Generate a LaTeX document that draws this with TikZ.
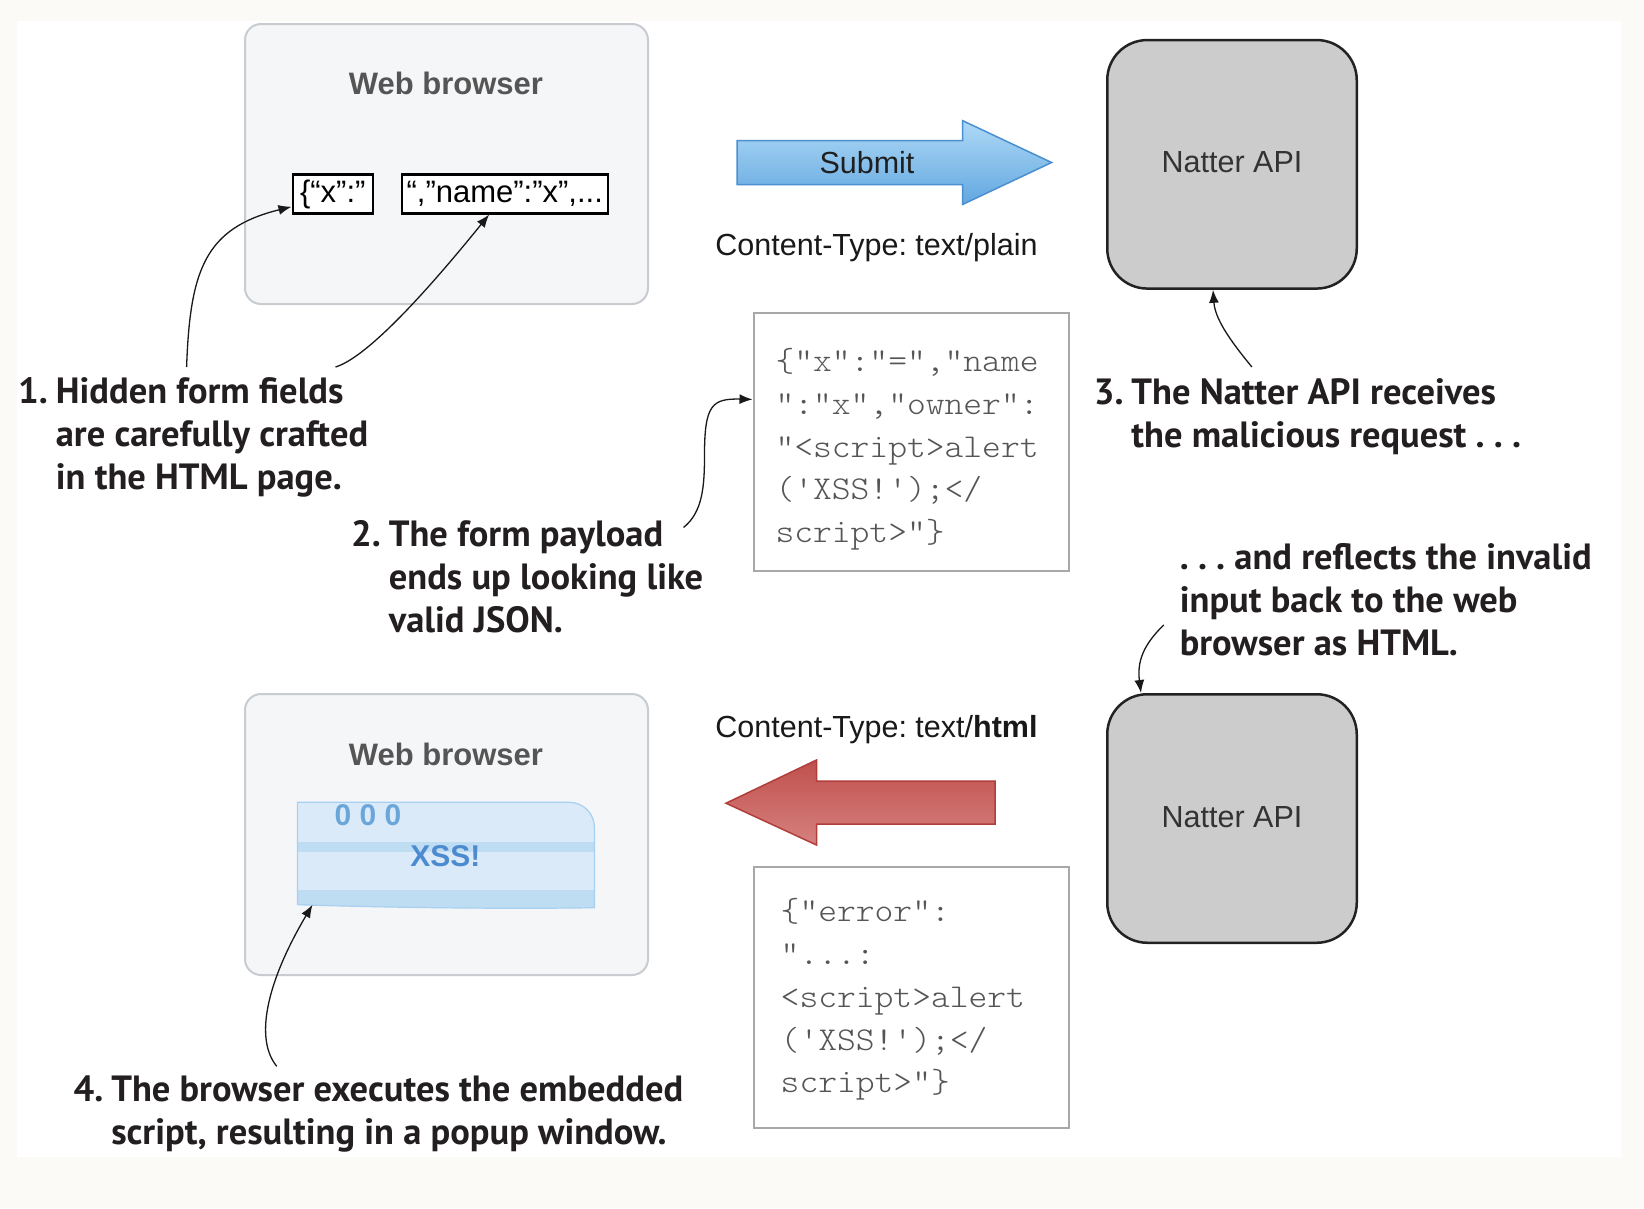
\documentclass[tikz,border=0pt]{standalone}
\usepackage{fontspec}
\setmainfont{Liberation Sans}
\newfontfamily\labelfont{PT Sans}
\newfontfamily\jsonfont[FakeStretch=1.075]{Latin Modern Mono Light}
\usetikzlibrary{arrows.meta,calc}
\definecolor{bgc}{HTML}{FBFAF6}
\definecolor{browserfill}{HTML}{F5F6F8}
\definecolor{browserline}{HTML}{C8CBCF}
\definecolor{apifill}{HTML}{CCCCCC}
\definecolor{apiline}{HTML}{222222}
\definecolor{jsonline}{HTML}{A8A8A8}
\definecolor{jsontext}{HTML}{555555}
\definecolor{lblc}{HTML}{231F20}
\definecolor{wbtext}{HTML}{555555}
\definecolor{popfill}{HTML}{DAEAF8}
\definecolor{popband}{HTML}{BEDCF2}
\definecolor{popline}{HTML}{A8D0F0}
\definecolor{popdots}{HTML}{6BA6DB}
\definecolor{popxss}{HTML}{4C8BD0}
\definecolor{subtop}{HTML}{AED9F6}
\definecolor{subbot}{HTML}{62A7E0}
\definecolor{subline}{HTML}{4A8FD0}
\definecolor{redtop}{HTML}{C0504D}
\definecolor{redbot}{HTML}{D6817E}
\definecolor{redline}{HTML}{B13E3B}
\frenchspacing
\begin{document}
\begin{tikzpicture}[x=1pt,y=-1pt,
  browser/.style={draw=browserline, fill=browserfill, line width=2pt, rounded corners=16pt,
    minimum width=403pt, minimum height=280pt, anchor=north west, inner sep=0pt},
  api/.style={draw=apiline, fill=apifill, line width=2.5pt, rounded corners=40pt,
    minimum width=249.5pt, minimum height=248.5pt, anchor=north west, inner sep=0pt,
    text=black!80, font=\fontsize{30.5}{36}\selectfont, text height=17pt, text depth=0pt},
  field/.style={draw=black, line width=2.5pt, fill=white, anchor=north west, inner sep=0pt,
    minimum height=39pt, font=\fontsize{31}{36}\selectfont, text height=24pt, text depth=6pt},
  jsonbox/.style={draw=jsonline, line width=2pt, fill=white, anchor=north west, inner sep=0pt,
    minimum width=315pt},
  jsontxt/.style={anchor=north west, inner sep=0pt, align=left, text=jsontext,
    font=\jsonfont\fontsize{33.3}{42.7}\selectfont},
  conn/.style={line width=1.3pt, draw=black!90, -{Latex[length=13pt,width=10pt]}},
  lbl/.style={anchor=north west, inner sep=0pt, text=lblc,
    font=\labelfont\bfseries\fontsize{36.5}{43}\selectfont},
  sans/.style={anchor=base, inner sep=0pt, font=\fontsize{30.5}{36}\selectfont},
  wb/.style={sans, text=wbtext, font=\bfseries\fontsize{31}{36}\selectfont}
]
\fill[bgc] (0,0) rectangle (1644,1208);
\fill[white] (17,21) rectangle (1621,1157);
\useasboundingbox (0,0) rectangle (1644,1208);

% ---------- top row ----------
\node[browser] (b1) at (244,23) {};
\node[wb] (wb1) at (446,94) {Web browser};
\node[field, minimum width=80pt] (f1) at (291.5,173) {\{“x”:”};
\node[field, minimum width=206pt] (f2) at (400.5,173) {“,”name”:”x”,...};

\draw[line width=1.5pt, draw=subline, top color=subtop, bottom color=subbot]
  (737,140.5) -- (962.5,140.5) -- (962.5,120.6) -- (1051.6,162.5)
  -- (962.5,204.5) -- (962.5,184.5) -- (737,184.5) -- cycle;
\node[sans, text=black!88] (sub) at (867,173.5) {Submit};
\node[sans, text=black!90] (ct1) at (876.5,255) {Content-Type: text/plain};

\node[api] (n1) at (1106,38.8) {Natter API};

\node[jsonbox, minimum height=258pt] (j1) at (752.5,312) {};
\node[jsontxt] (jt1) at (775.3,341.8) {\strut\{"x":"=","name\\\strut":"x","owner":\\\strut"<script>alert\\\strut('XSS!');</\\\strut script>"\}};

% ---------- bottom row ----------
\node[browser, minimum height=281pt] (b2) at (244,693) {};
\node[wb] (wb2) at (446,765) {Web browser};
\node[minimum width=296.5pt, minimum height=104pt, anchor=north west, inner sep=0pt] (pop) at (297.5,802.3) {};
\begin{scope}
  \clip ([yshift=2pt]pop.south west) -- (pop.north west) -- ([xshift=-25pt]pop.north east)
    arc[start angle=90, end angle=0, radius=25pt]
    -- ([yshift=-1pt]pop.south east) .. controls (520,909) and (400,908) .. ([yshift=2pt]pop.south west) -- cycle;
  \fill[popfill] (pop.north west) rectangle ([yshift=-6pt]pop.south east);
  \fill[popband] (297.5,841.7) rectangle (594,852.3);
  \fill[popband] (297.5,890) rectangle (594,915);
\end{scope}
\draw[popline, line width=1.2pt] ([yshift=2pt]pop.south west) -- (pop.north west) -- ([xshift=-25pt]pop.north east)
    arc[start angle=90, end angle=0, radius=25pt]
    -- ([yshift=-1pt]pop.south east) .. controls (520,909) and (400,908) .. ([yshift=2pt]pop.south west);
\node[sans, text=popdots, font=\bfseries\fontsize{30}{36}\selectfont] (dots) at (368,825.7) {0 0 0};
\node[sans, text=popxss, font=\bfseries\fontsize{30}{36}\selectfont] (xss) at (445.3,866) {XSS!};

\node[sans, text=black!90] (ct2) at (876.5,737) {Content-Type: text/\textbf{html}};
\draw[line width=1.5pt, draw=redline, top color=redtop, bottom color=redbot]
  (726,803.2) -- (816.5,760) -- (816.5,781) -- (995,781) -- (995,824)
  -- (816.5,824) -- (816.5,845) -- cycle;

\node[jsonbox, minimum height=261pt] (j2) at (752.5,866) {};
\node[jsontxt] (jt2) at (780.5,891.8) {\strut\{"error":\\\strut"...:\\\strut<script>alert\\\strut('XSS!');</\\\strut script>"\}};

\node[api] (n2) at (1106,693) {Natter API};

% ---------- labels ----------
\renewcommand{\arraystretch}{1}
\node[lbl] (l1) at (18,373.4) {\begin{tabular}{@{}l@{\hspace{8pt}}l@{}}1. & Hidden form fields\\ & are carefully crafted\\ & in the HTML page.\end{tabular}};
\node[lbl] (l2) at (351,516.4) {\begin{tabular}{@{}l@{\hspace{8pt}}l@{}}2. & The form payload\\ & ends up looking like\\ & valid JSON.\end{tabular}};
\node[lbl] (l3) at (1093.6,374.4) {\begin{tabular}{@{}l@{\hspace{8pt}}l@{}}3. & The Natter API receives\\ & the malicious request . . .\end{tabular}};
\node[lbl] (l4) at (1179.6,539.4) {\begin{tabular}{@{}l@{}}. . . and reflects the invalid\\ input back to the web\\ browser as HTML.\end{tabular}};
\node[lbl] (l5) at (73.4,1071.4) {\begin{tabular}{@{}l@{\hspace{8pt}}l@{}}4. & The browser executes the embedded\\ & script, resulting in a popup window.\end{tabular}};

% ---------- connectors ----------
\coordinate (c1a) at (186.6,367);
\coordinate (c1b) at (335.5,367);
\coordinate (c2) at (683.6,527.4);
\coordinate (c3) at (1251.9,367);
\coordinate (c4r) at (1163.8,624.9);
\coordinate (c4) at (276.8,1066.3);

\draw[conn] (c1a) .. controls (190,270) and (205,228) .. ([yshift=-13pt]f1.west);
\draw[conn] (c1b) .. controls (365,358) and (420,300) .. ([xshift=-15.6pt]f2.south);
\draw[conn] (c2) .. controls (703,512) and (704.5,485) .. (704.5,455)
  .. controls (704.5,405) and (712,398.4) .. ([yshift=42.6pt]j1.west);
\draw[conn] (c3) .. controls (1228,338) and (1215,318) .. ([xshift=-19pt]n1.south);
\draw[conn] (c4r) .. controls (1143,645) and (1137,662) .. ([xshift=-91pt]n2.north);
\draw[conn] (c4) .. controls (255,1040) and (265,985) .. ([xshift=15pt,yshift=2pt]pop.south west);
\end{tikzpicture}
\end{document}
